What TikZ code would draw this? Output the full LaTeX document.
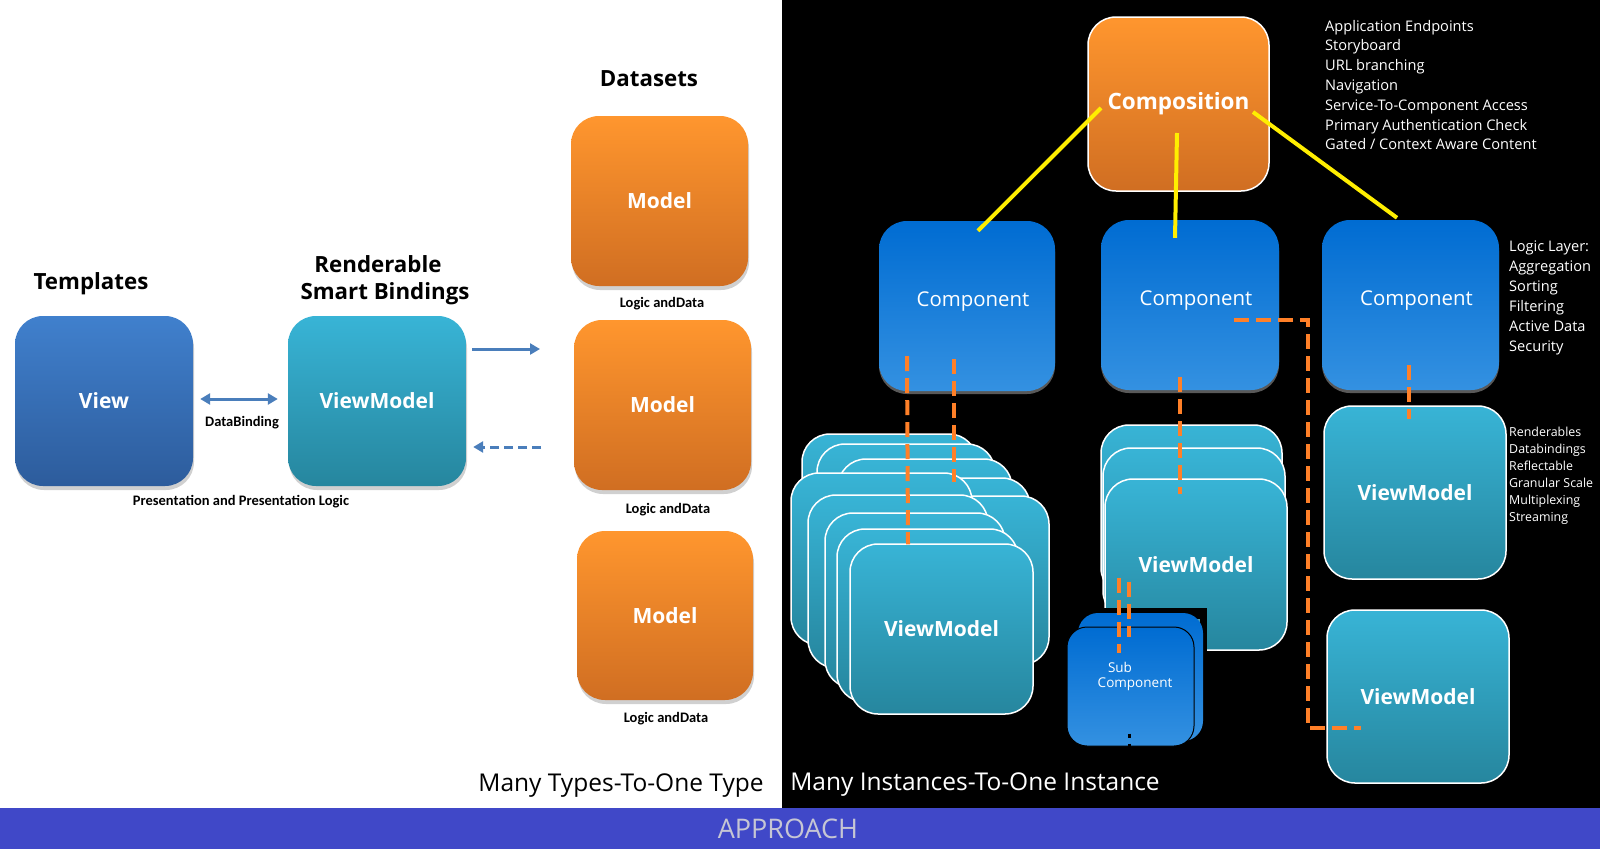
\documentclass[tikz,border=0pt]{standalone}
\usepackage{fontspec}
\setmainfont{Open Sans}
\newfontfamily\calib{Carlito}
\usetikzlibrary{calc,arrows.meta,shadows}
\definecolor{tealT}{RGB}{56,180,214}
\definecolor{tealB}{RGB}{38,134,158}
\definecolor{orT}{RGB}{255,150,46}
\definecolor{orB}{RGB}{208,110,34}
\definecolor{blT}{RGB}{0,108,210}
\definecolor{blB}{RGB}{52,145,225}
\definecolor{vwT}{RGB}{64,128,205}
\definecolor{vwB}{RGB}{45,92,156}
\definecolor{arrowblue}{RGB}{74,126,187}
\definecolor{odash}{RGB}{255,128,40}
\definecolor{ylw}{RGB}{255,238,0}
\definecolor{barblue}{RGB}{64,72,200}
\definecolor{bargray}{RGB}{198,198,212}
\tikzset{
  fs/.style={font=\fontsize{#1}{#1}\selectfont},
  box/.style={rounded corners=28pt, inner sep=0pt, text=white,
    font=\fontsize{21}{24}\selectfont\bfseries},
  lshadow/.style={drop shadow={opacity=0.3, shadow xshift=1pt, shadow yshift=-4pt, fill=black!60}},
  viewbox/.style={box, top color=vwT, bottom color=vwB, lshadow},
  tealbox/.style={box, top color=tealT, bottom color=tealB},
  orbox/.style={box, top color=orT, bottom color=orB},
  compbox/.style={box, top color=blT, bottom color=blB,
    drop shadow={opacity=0.7, shadow xshift=0pt, shadow yshift=-3pt, fill=gray}},
  comptext/.style={inner sep=0pt, text=white, font=\fontsize{20.4}{24}\selectfont},
  stackbox/.style={tealbox, draw=white, line width=1.5pt},
  title/.style={font=\fontsize{22.3}{26}\selectfont\bfseries, text=black, inner sep=0pt},
  smalllbl/.style={font=\calib\bfseries\fontsize{14.5}{16}\selectfont, text=black, inner sep=0pt},
  listtxt/.style={anchor=west, inner sep=0pt, text=white, text height=11pt, text depth=3.5pt,
    font=\fontsize{14.6}{16}\selectfont},
  slisttxt/.style={anchor=west, inner sep=0pt, text=white, text height=9.5pt, text depth=3pt,
    font=\fontsize{12.4}{14}\selectfont},
  bigtxt/.style={font=\fontsize{24.5}{28}\selectfont, inner sep=0pt},
  barrow/.style={draw=arrowblue, line width=3pt, -{Triangle[length=10pt,width=11pt]}},
  odashed/.style={draw=odash, line width=4pt, dash pattern=on 15pt off 7pt},
  yline/.style={draw=ylw, line width=4pt},
}
\begin{document}
\begin{tikzpicture}[x=1pt,y=-1pt]
\useasboundingbox (0,0) rectangle (1600,849);
\fill[white] (0,0) rectangle (1600,849);
\fill[black] (782,0) rectangle (1600,808);
\fill[barblue] (0,808) rectangle (1600,849);

% ---------- left panel ----------
\node[title] (ttempl) at (91,284) {Templates};
\node[title] (trend1) at (378,264) {Renderable};
\node[title] (trend2) at (385,294) {Smart Bindings};
\node[title] (tdata) at (649,79) {Datasets};

\node[viewbox, minimum width=178pt, minimum height=170pt] (view) at (104,401) {View};
\node[tealbox, lshadow, minimum width=178pt, minimum height=170pt] (vmL) at (377,401) {ViewModel};
\node[orbox, lshadow, minimum width=177pt, minimum height=170pt] (m1) at (659.5,201) {Model};
\node[orbox, lshadow, minimum width=177pt, minimum height=170pt] (m2) at (662.5,405) {Model};
\node[orbox, lshadow, minimum width=176pt, minimum height=169pt] (m3) at (665,615.5) {Model};

\node[smalllbl] (ldb) at (242,423) {DataBinding};
\node[smalllbl] (lpres) at (241,502) {Presentation and Presentation Logic};
\node[smalllbl] (lld1) at (662,304) {Logic andData};
\node[smalllbl] (lld2) at (668,510) {Logic andData};
\node[smalllbl] (lld3) at (666,719) {Logic andData};

\coordinate (toData) at (540,349);
\coordinate (fromData) at (541,447);
\draw[barrow, {Triangle[length=10pt,width=11pt]}-{Triangle[length=10pt,width=11pt]}]
  ($(view.east)+(7,-2)$) -- ($(vmL.west)+(-10,-2)$);
\draw[barrow] ($(vmL.east)+(6,-52)$) -- (toData);
\draw[barrow, dash pattern=on 9pt off 5pt] (fromData) -- ($(vmL.east)+(7,46)$);

\node[bigtxt] (many1) at (621,786) {Many Types-To-One Type};

% ---------- right panel ----------
\node[orbox, draw=white!92, line width=1.5pt, minimum width=181pt, minimum height=174pt,
  font=\fontsize{22.5}{26}\selectfont\bfseries] (comp) at (1178.5,104) {Composition};

\foreach [count=\i] \t in {Application Endpoints, Storyboard, URL branching, Navigation,
  Service-To-Component Access, Primary Authentication Check, Gated / Context Aware Content}
  \node[listtxt] (ltop\i) at (1325,7.5+19.8*\i) {\t};

\node[compbox, minimum width=176pt, minimum height=170pt] (c1) at (967,306) {};
\node[compbox, minimum width=178pt, minimum height=170pt] (c2) at (1190,305) {};
\node[compbox, minimum width=177pt, minimum height=170pt] (c3) at (1410.5,305) {};
\node[comptext] (c1t) at ($(c1.center)+(6,-4)$) {Component};
\node[comptext] (c2t) at ($(c2.center)+(6,-4)$) {Component};
\node[comptext] (c3t) at ($(c3.center)+(6,-4)$) {Component};

\foreach [count=\i] \t in {Logic Layer:, Aggregation, Sorting, Filtering, Active Data, Security}
  \node[listtxt] (llog\i) at (1509,228+20*\i) {\t};

% stack 1
\node[stackbox, minimum width=175pt, minimum height=172pt] (vsA) at (889.5,520) {};
\node[stackbox, minimum width=178pt, minimum height=172pt] (vsB) at (906,530) {};
\node[stackbox, minimum width=174pt, minimum height=172pt] (vsC) at (925,545) {};
\node[stackbox, minimum width=182pt, minimum height=171pt] (vsD) at (939,563.5) {};
\node[stackbox, minimum width=182pt, minimum height=169pt] (vsJ) at (958,580.5) {};
\node[stackbox, minimum width=181pt, minimum height=172pt] (vsE) at (881.5,559) {};
\node[stackbox, minimum width=180pt, minimum height=173pt] (vsF) at (898,581.5) {};
\node[stackbox, minimum width=180pt, minimum height=175pt] (vsG) at (915,600.5) {};
\node[stackbox, minimum width=181pt, minimum height=173pt] (vsH) at (927.5,615.5) {};
\node[stackbox, minimum width=183pt, minimum height=170pt] (vsI) at (941.5,629) {ViewModel};

% stack 2
\node[stackbox, minimum width=181pt, minimum height=171pt] (vt1) at (1191.5,510.5) {};
\node[stackbox, minimum width=182pt, minimum height=171pt] (vt2) at (1194,533.5) {};
\node[stackbox, minimum width=182pt, minimum height=171pt] (vt3) at (1196,564.5) {ViewModel};

% sub component
\fill[black] (1091,608) rectangle (1207,700);
\draw[draw=tealB!80!white, line width=2pt] (1093,620) -- (1199,620) -- (1199,667);
\node[box, rounded corners=20pt, top color=blT, bottom color=blB, minimum width=125pt, minimum height=128pt] (sb) at (1140.5,677) {};
\node[box, rounded corners=20pt, top color=blT, bottom color=blB, draw=black, line width=1pt,
  minimum width=127pt, minimum height=119pt] (sf) at (1130.5,686.5) {};
\node[inner sep=0pt, text=white, fs=13.5] (sub1) at (1120,667) {Sub};
\node[inner sep=0pt, text=white, fs=13.5] (sub2) at (1135,684) {Component};
\draw[black, line width=3pt, dash pattern=on 4pt off 6pt] ($(sf.south)+(-1.5,-13)$) -- ($(sf.south)+(-1.5,0)$);

% right viewmodels
\node[stackbox, minimum width=182pt, minimum height=173pt] (vm3) at (1415,492.5) {ViewModel};
\node[stackbox, minimum width=182pt, minimum height=173pt] (vm4) at (1418,696.5) {ViewModel};

\foreach [count=\i] \t in {Renderables, Databindings, Reflectable, Granular Scale, Multiplexing, Streaming}
  \node[slisttxt] (lren\i) at (1509,416+17*\i) {\t};

% yellow connectors
\draw[yline] ($(comp.center)+(-77.5,4)$) -- ($(c1.north)+(11,10)$);
\draw[yline] ($(comp.center)+(-1.5,29)$) -- ($(c2.north)+(-15,18)$);
\draw[yline] ($(comp.center)+(74.5,8)$) -- ($(c3.north)+(-13.5,-2)$);

% orange dashed connectors
\draw[odashed] ($(c1.south)+(-60,-35)$) -- ($(vsI.north)+(-33.5,1)$);
\draw[odashed] ($(c1.south)+(-13,-32)$) -- ($(vsI.north)+(12.5,-61)$);
\draw[odashed] ($(c2.south)+(-10,-13)$) -- ($(vt3.north)+(-16,16)$);
\draw[odashed] ($(c2.center)+(44,15)$) -- ++(74,0) |- ($(vm4.west)+(35,31.5)$);
\draw[odashed] ($(c3.south)+(-1.5,-25)$) -- ($(vm3.north)+(-6,14)$);
\draw[odashed] ($(sf.north)+(-11.5,-49)$) -- ($(sf.north)+(-11.5,26)$);
\draw[odashed] ($(sf.north)+(-1.5,-45)$) -- ($(sf.north)+(-1.5,10)$);

\node[bigtxt, text=white] (many2) at (975,785) {Many Instances-To-One Instance};

\node[font=\fontsize{27}{30}\selectfont, text=bargray, inner sep=0pt] (appr) at (788,829) {APPROACH};
\end{tikzpicture}
\end{document}
